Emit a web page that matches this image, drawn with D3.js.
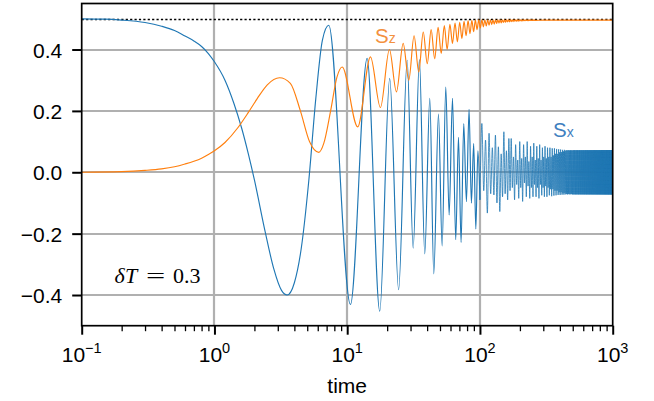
<!DOCTYPE html>
<html><head><meta charset="utf-8">
<script src="https://cdn.jsdelivr.net/npm/d3@7"></script>
<style>body{margin:0;background:#fff}svg{display:block}</style>
</head><body>
<svg id="c" width="654" height="401"></svg>
<script>
// ---------- data ----------
const xTickValues = [0.1, 1, 10, 100, 1000];
const xTickExponents = ["−1", "0", "1", "2", "3"];
const yTickValues = [-0.4, -0.2, 0, 0.2, 0.4];
const yTickLabels = ["−0.4", "−0.2", "0.0", "0.2", "0.4"];
const referenceLevel = 0.5;
const xLabel = "time";

// Sx (blue): smooth start, then extrema
const sxEarly = [[0.1,0.5],[0.15,0.499],[0.2,0.496],[0.3,0.488],[0.4,0.476],[0.5,0.462],[0.6,0.444],[0.7,0.428],[0.8,0.41],[0.9,0.387],[1.0,0.36],[1.2,0.3],[1.4,0.225],[1.6,0.145],[1.8,0.06],[2.0,-0.025],[2.4,-0.19],[2.8,-0.315],[3.2,-0.385],[3.53,-0.4],[4.0,-0.36],[4.5,-0.25],[5.13,-0.03],[5.8,0.24],[6.5,0.43],[7.26,0.479]];
const sxMid = [[10.58,-0.431],[14.13,0.371],[17.59,-0.453],[20.9,0.306],[24.4,-0.383],[28.3,0.365],[31.4,-0.247],[35.0,0.367],[38.4,-0.266],[41.9,0.241],[44.9,-0.331],[48.7,0.19],[51.9,-0.24],[55.3,0.278],[58.6,-0.139],[62.1,0.241],[65.7,-0.22],[68.9,0.114],[72.1,-0.229],[75.5,0.159],[79.1,-0.096],[82.8,0.205],[86.2,-0.101],[89.7,0.094],[93.1,-0.185],[96.5,0.07],[100.0,-0.09]];
const sxLate = [[100.0,-0.09],[103.4,0.159],[106.8,-0.06],[110.2,0.105],[113.7,-0.133],[117.1,0.127],[120.5,-0.07],[124.0,0.08],[127.4,-0.074],[130.8,0.121],[134.3,-0.1],[137.7,0.083],[141.1,-0.128],[144.5,0.06],[148.0,-0.08],[151.4,0.132],[154.8,-0.07],[158.3,0.07],[161.7,-0.09],[165.1,0.11],[168.6,-0.06]];
const sxTail = [[172.0,0.11],[175.4,-0.05],[178.9,0.05],[182.3,-0.09],[185.7,0.09],[189.2,-0.04],[192.6,0.04],[196.0,-0.085],[199.4,0.1],[202.9,-0.05],[206.3,0.045],[209.7,-0.095],[213.2,0.09],[216.6,-0.035],[220.0,0.05],[223.5,-0.08],[226.9,0.1],[230.3,-0.045],[233.7,0.035],[237.2,-0.085],[240.6,0.085],[244.0,-0.05],[247.5,0.05],[250.9,-0.08],[254.3,0.095],[257.8,-0.04],[261.2,0.04],[264.6,-0.08],[268.0,0.085],[271.5,-0.05],[274.9,0.045],[278.3,-0.085],[281.8,0.09],[285.2,-0.04],[288.6,0.04],[292.1,-0.075],[295.5,0.08],[298.9,-0.05],[302.3,0.05],[305.8,-0.08],[309.2,0.085],[312.6,-0.045],[316.1,0.045],[319.5,-0.08],[322.9,0.08],[326.4,-0.05],[329.8,0.05],[333.2,-0.075],[336.6,0.08],[340.1,-0.055],[343.5,0.05],[346.9,-0.078],[350.4,0.078],[353.8,-0.055],[357.2,0.055],[360.7,-0.076],[364.1,0.078],[367.5,-0.06],[370.9,0.06],[374.4,-0.075],[377.8,0.076],[381.2,-0.06],[384.7,0.06],[388.1,-0.074],[391.5,0.075],[395.0,-0.065],[398.4,0.065],[401.8,-0.074],[405.2,0.074],[408.7,-0.065],[412.1,0.066],[415.5,-0.073],[419.0,0.073],[422.4,-0.068],[425.8,0.068],[429.3,-0.073],[432.7,0.073],[436.1,-0.068],[439.5,0.07],[443.0,-0.072],[446.4,0.072],[449.8,-0.071],[453.3,0.071],[456.7,-0.072],[460.1,0.072],[463.6,-0.071],[467.0,0.072],[470.4,-0.072],[473.8,0.071],[477.3,-0.071],[480.7,0.072],[484.1,-0.072],[487.6,0.072],[491.0,-0.071],[494.4,0.071],[497.9,-0.072],[501.3,0.072],[504.7,-0.072],[508.2,0.072],[511.6,-0.072],[515.0,0.072],[518.5,-0.072],[521.9,0.072],[525.3,-0.072],[528.7,0.072],[532.2,-0.072],[535.6,0.072],[539.0,-0.072],[542.5,0.072],[545.9,-0.072],[549.3,0.072],[552.8,-0.072],[556.2,0.072],[559.6,-0.072],[563.0,0.072],[566.5,-0.072],[569.9,0.072],[573.3,-0.072],[576.8,0.072],[580.2,-0.072],[583.6,0.072],[587.0,-0.072],[590.5,0.072],[593.9,-0.072],[597.3,0.072],[600.8,-0.072],[604.2,0.072],[607.6,-0.072],[611.1,0.072],[614.5,-0.072],[617.9,0.072],[621.3,-0.072],[624.8,0.072],[628.2,-0.072],[631.6,0.072],[635.1,-0.072],[638.5,0.072],[641.9,-0.072],[645.4,0.072],[648.8,-0.072],[652.2,0.072],[655.6,-0.072],[659.1,0.072],[662.5,-0.072],[665.9,0.072],[669.4,-0.072],[672.8,0.072],[676.2,-0.072],[679.6,0.072],[683.1,-0.072],[686.5,0.072],[689.9,-0.072],[693.4,0.072],[696.8,-0.072],[700.2,0.072],[703.7,-0.072],[707.1,0.072],[710.5,-0.072],[713.9,0.072],[717.4,-0.072],[720.8,0.072],[724.2,-0.072],[727.7,0.072],[731.1,-0.072],[734.5,0.072],[737.9,-0.072],[741.4,0.072],[744.8,-0.072],[748.2,0.072],[751.7,-0.072],[755.1,0.072],[758.5,-0.072],[762.0,0.072],[765.4,-0.072],[768.8,0.072],[772.2,-0.072],[775.7,0.072],[779.1,-0.072],[782.5,0.072],[786.0,-0.072],[789.4,0.072],[792.8,-0.072],[796.2,0.072],[799.7,-0.072],[803.1,0.072],[806.5,-0.072],[810.0,0.072],[813.4,-0.072],[816.8,0.072],[820.3,-0.072],[823.7,0.072],[827.1,-0.072],[830.5,0.072],[834.0,-0.072],[837.4,0.072],[840.8,-0.072],[844.3,0.072],[847.7,-0.072],[851.1,0.072],[854.5,-0.072],[858.0,0.072],[861.4,-0.072],[864.8,0.072],[868.3,-0.072],[871.7,0.072],[875.1,-0.072],[878.6,0.072],[882.0,-0.072],[885.4,0.072],[888.8,-0.072],[892.3,0.072],[895.7,-0.072],[899.1,0.072],[902.6,-0.072],[906.0,0.072],[909.4,-0.072],[912.8,0.072],[916.3,-0.072],[919.7,0.072],[923.1,-0.072],[926.6,0.072],[930.0,-0.072],[933.4,0.072],[936.9,-0.072],[940.3,0.072],[943.7,-0.072],[947.1,0.072],[950.6,-0.072],[954.0,0.072],[957.4,-0.072],[960.9,0.072],[964.3,-0.072],[967.7,0.072],[971.1,-0.072],[974.6,0.072],[978.0,-0.072],[981.4,0.072],[984.9,-0.072],[988.3,0.072],[991.7,-0.072],[995.2,0.072],[998.6,-0.072],[1002.0,0.072]];

// Sz (orange)
const szEarly = [[0.1,0],[0.2,0.002],[0.3,0.006],[0.4,0.011],[0.5,0.018],[0.6,0.027],[0.7,0.036],[0.8,0.046],[0.9,0.058],[1.0,0.07],[1.2,0.097],[1.5,0.145],[1.8,0.195],[2.1,0.24],[2.5,0.285],[3.09,0.308],[3.73,0.29],[4.44,0.2],[5.2,0.1],[6.11,0.065],[6.66,0.094],[7.5,0.2],[8.37,0.31],[9.16,0.343]];
const szMid = [[12.0,0.148],[14.97,0.376],[17.8,0.211],[20.8,0.4],[23.5,0.262],[26.4,0.42],[29.1,0.3],[31.9,0.445],[34.6,0.327],[37.4,0.457],[40.1,0.354],[42.9,0.465],[45.6,0.37],[48.4,0.472],[51.1,0.387],[53.9,0.478],[56.6,0.4],[59.4,0.482],[62.1,0.42],[64.9,0.486],[67.6,0.425],[70.4,0.489],[73.1,0.436],[75.9,0.492],[78.6,0.445],[81.4,0.494],[84.1,0.452],[86.9,0.495],[89.6,0.458],[92.4,0.496],[95.1,0.465],[97.9,0.497],[100.6,0.47]];
const szTail = [[103.4,0.497],[106.1,0.474],[108.9,0.497],[111.6,0.477],[114.4,0.497],[117.1,0.479],[119.9,0.497],[122.6,0.481],[125.4,0.497],[128.1,0.483],[130.9,0.497],[133.6,0.485],[136.4,0.497],[139.1,0.486],[141.9,0.497],[144.6,0.487],[147.4,0.497],[150.1,0.488],[152.9,0.497],[155.6,0.489],[158.4,0.497],[161.1,0.49],[163.9,0.497],[166.6,0.49],[169.4,0.497],[172.1,0.491],[174.9,0.497],[177.6,0.491],[180.4,0.497],[183.1,0.492],[185.9,0.497],[188.6,0.492],[191.4,0.497],[194.1,0.492],[196.9,0.497],[199.6,0.493],[202.4,0.497],[205.1,0.493],[207.9,0.497],[210.6,0.493],[213.4,0.497],[216.1,0.494],[218.9,0.497],[221.6,0.494],[224.4,0.497],[227.1,0.494],[229.9,0.497],[232.6,0.494],[235.4,0.497],[238.1,0.495],[240.9,0.497],[243.6,0.495],[246.4,0.497],[249.1,0.495],[251.9,0.497],[254.6,0.495],[257.4,0.497],[260.1,0.495],[300,0.496],[400,0.496],[600,0.496],[1000,0.496]];

const seriesNames = ["S", "S"];
const seriesSubs = ["x", "z"];
const annotationParts = ["δ", "T", "=", "0.3"];

// ---------- layout ----------
const L = 81.7, R = 612.7, T = 3.5, B = 325.7;
const x = d3.scaleLog().domain([0.1, 1000]).range([L, R]);
const y = d3.scaleLinear().domain([-0.5, 0.55]).range([B, T]);
const svg = d3.select("#c");
const FONT = "'Liberation Sans', Arial, Helvetica, sans-serif";
const snap = v => Math.round(v);

svg.append("defs").append("clipPath").attr("id", "clip")
  .append("rect").attr("x", L).attr("y", T).attr("width", R - L).attr("height", B - T);

// grid
const grid = svg.append("g").attr("stroke", "#b0b0b0").attr("stroke-width", 2.2);
grid.selectAll("line.gy").data(yTickValues).join("line").attr("class", "gy")
  .attr("x1", L).attr("x2", R).attr("y1", d => snap(y(d))).attr("y2", d => snap(y(d)));
grid.selectAll("line.gx").data(xTickValues.slice(1, -1)).join("line").attr("class", "gx")
  .attr("y1", T).attr("y2", B).attr("x1", d => snap(x(d))).attr("x2", d => snap(x(d)));

// reference dotted line
svg.append("line").datum(referenceLevel).attr("x1", L).attr("x2", R)
  .attr("y1", d => Math.round(y(d)) + 0.5).attr("y2", d => Math.round(y(d)) + 0.5)
  .attr("stroke", "#000").attr("stroke-width", 1.6).attr("stroke-dasharray", "2.2,2.2");

// lines
const line = d3.line().x(d => x(d[0])).y(d => y(d[1])).curve(d3.curveMonotoneX);
const plot = svg.append("g").attr("clip-path", "url(#clip)");
plot.append("path").datum(sxEarly.concat(sxMid)).attr("d", line).attr("fill", "none")
  .attr("stroke", "#1f77b4").attr("stroke-width", 1.15).attr("stroke-linejoin", "round");
plot.append("path").datum(sxLate.concat(sxTail)).attr("d", line).attr("fill", "none")
  .attr("stroke", "#1f77b4").attr("stroke-width", 0.8).attr("stroke-linejoin", "round");
plot.append("path").datum(szEarly.concat(szMid, szTail)).attr("d", line).attr("fill", "none")
  .attr("stroke", "#ff7f0e").attr("stroke-width", 1.15).attr("stroke-linejoin", "round");

// frame
svg.append("rect").attr("x", L).attr("y", T).attr("width", R - L).attr("height", B - T)
  .attr("fill", "none").attr("stroke", "#000").attr("stroke-width", 1.7);

// y axis
const yAxis = d3.axisLeft(y).tickValues(yTickValues).tickSize(9.5).tickPadding(10)
  .tickFormat((d, i) => yTickLabels[i]);
const gy = svg.append("g").attr("transform", `translate(${L},0)`).call(yAxis);
gy.select(".domain").remove();
gy.selectAll(".tick line").attr("stroke", "#000").attr("stroke-width", 2);
gy.selectAll(".tick text").attr("font-family", FONT).attr("font-size", 21).attr("fill", "#000")
  .attr("dy", "0.36em");

// x axis major
const xAxis = d3.axisBottom(x).tickValues(xTickValues).tickSize(9).tickFormat(() => "");
const gx = svg.append("g").attr("transform", `translate(0,${B})`).call(xAxis);
gx.select(".domain").remove();
gx.selectAll(".tick line").attr("stroke", "#000").attr("stroke-width", 2);
// x axis minor
const minorTicks = x.ticks().filter(d => !xTickValues.some(v => Math.abs(v - d) < 1e-9));
const xMinor = d3.axisBottom(x).tickValues(minorTicks).tickSize(5.5).tickFormat(() => "");
const gxm = svg.append("g").attr("transform", `translate(0,${B})`).call(xMinor);
gxm.select(".domain").remove();
gxm.selectAll(".tick line").attr("stroke", "#000").attr("stroke-width", 1.3);

// x tick labels with superscripts
const xl = svg.append("g").attr("font-family", FONT).attr("fill", "#000");
xTickValues.forEach((v, i) => {
  const t = xl.append("text").attr("x", x(v)).attr("y", 361.7).attr("text-anchor", "middle")
    .attr("font-size", 21);
  t.append("tspan").text("10");
  t.append("tspan").attr("font-size", 14.5).attr("dy", -8.5).text(xTickExponents[i]);
});

// x label
svg.append("text").attr("x", (L + R) / 2).attr("y", 392.5).attr("text-anchor", "middle")
  .attr("font-family", FONT).attr("font-size", 21).attr("fill", "#000").text(xLabel);

// annotation (math-style)
const SERIF = "'Liberation Serif', 'Times New Roman', serif";
const ann = svg.append("text").attr("y", 283.3)
  .attr("font-family", SERIF).attr("font-size", 22).attr("fill", "#000");
ann.append("tspan").attr("x", 114.5).attr("font-style", "italic").text(annotationParts[0]);
ann.append("tspan").attr("x", 125).attr("font-style", "italic").text(annotationParts[1]);
ann.append("tspan").attr("x", 173).text(annotationParts[3]);
svg.append("text").attr("transform", "translate(146,283.3) scale(1.55,1)")
  .attr("font-family", SERIF).attr("font-size", 22).attr("fill", "#000").text(annotationParts[2]);

// series labels
function seriesLabel(px, py, i, color) {
  const t = svg.append("text").attr("x", px).attr("y", py).attr("font-family", FONT)
    .attr("font-size", 20.5).attr("fill", color);
  t.append("tspan").text(seriesNames[i]);
  t.append("tspan").attr("font-size", 14).attr("dy", 0.5).text(seriesSubs[i]);
}
seriesLabel(553, 136.7, 0, "#3f7fc0");
seriesLabel(375, 42.7, 1, "#f3913f");
</script>
</body></html>
